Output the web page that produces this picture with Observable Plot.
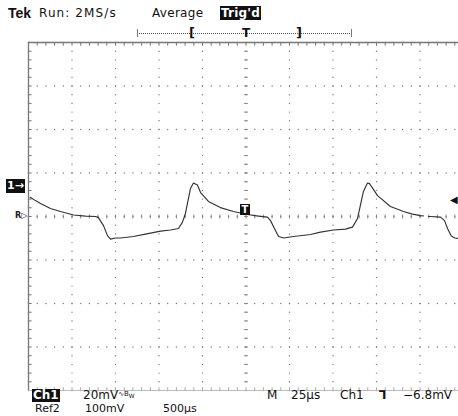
<!DOCTYPE html>
<html><head><meta charset="utf-8">
<script src="https://cdn.jsdelivr.net/npm/d3@7"></script>
<script src="https://cdn.jsdelivr.net/npm/@observablehq/plot@0.6"></script>
<style>
html,body{margin:0;padding:0;background:#fff;overflow:hidden}
#wrap{position:relative;width:458px;height:416px;overflow:hidden;background:#fff;font-family:"DejaVu Sans",sans-serif;color:#111}
#chart{position:absolute;left:0;top:0}
.t{position:absolute;font-size:12px;line-height:14px;white-space:nowrap}
</style></head>
<body><div id="wrap"><div id="chart"></div></div>
<script>
// ---- data (time in µs relative to trigger, Ch1 in mV relative to ground marker) ----
const timeUs = [-124,-121,-118.1,-112.4,-106.6,-99.1,-92.2,-86.5,-84.8,-81.9,-79.6,-77.9,-75,-72.2,-64.7,-57.8,-49.1,-43.4,-38.8,-36.5,-34.8,-31.9,-30.2,-27.9,-26.1,-21.6,-14.7,-7.2,-3.2,0.9,7.2,12.4,14.1,17,18.7,21.6,27.3,37.1,42.8,50.3,57.2,61.2,64.1,67.5,69.8,71,75.6,83,90.5,95.7,100.3,101.9,102.5,104.8,106,111.8,114.1,115.8,118,120,122.1];
const ch1mV  = [-5.2,-6.7,-8,-10.3,-11.7,-13.3,-13.8,-14,-14.5,-18.2,-22.8,-24.4,-23.9,-23.9,-23.2,-22.1,-20.7,-20.2,-19.5,-16.6,-12.6,-1.1,1.4,0.5,-3,-7.1,-9.9,-11.7,-12.4,-13.1,-13.8,-14.3,-15.9,-20.5,-23.2,-23.9,-23.2,-22.3,-21.2,-20.2,-19.8,-18.9,-14.9,-2.5,1.4,1.1,-4.4,-9.4,-11.7,-12.9,-13.6,-13.7,NaN,-14,-14,-14.3,-15.9,-19.5,-23,-23.9,-24.1];
const timeGrid = [-125,-100,-75,-50,-25,0,25,50,75,100,125];      // 25 µs/div
const voltGrid = [-94,-74,-54,-34,-14,6,26,46,66];                 // 20 mV/div
const timeMinorStep = 5, voltMinorStep = 4;                        // 5 minor ticks / div
const centerTime = 0, centerVolt = -14, triggerLevel = -6.8;
const headerLabels = ["Tek","Run: 2MS/s","Average","Trig'd"];
const footerLabels = ["Ch1","20mV","M","25µs","Ch1","−6.8mV","Ref2","100mV","500µs"];

const xMinor = d3.range(timeGrid[0], timeGrid[timeGrid.length-1]+0.01, timeMinorStep);
const yMinor = d3.range(voltGrid[0], voltGrid[voltGrid.length-1]+0.01, voltMinorStep);
const wave = timeUs.map((t,i)=>({t, v: ch1mV[i]}));
const dots = [];
for (const x of timeGrid) for (const y of yMinor) dots.push({x,y});
for (const y of voltGrid) for (const x of xMinor) dots.push({x,y});
const xMin = timeGrid[0], yMin = voltGrid[0], yMax = voltGrid[voltGrid.length-1];

const plot = Plot.plot({
  width: 458, height: 416,
  marginLeft: 28, marginTop: 42, marginBottom: 26, marginRight: 0,
  x: {domain: [timeGrid[0], timeGrid[timeGrid.length-1]], range: [28, 463], axis: null},
  y: {domain: [yMin, yMax], range: [390, 42], axis: null},
  style: {background: "white", overflow: "hidden"},
  marks: [
    Plot.dot(dots, {x: "x", y: "y", r: 0.7, fill: "#777", stroke: null}),
    // center cross ticks
    Plot.link(yMinor, {x1: centerTime - 1.1, x2: centerTime + 1.1, y1: d => d, y2: d => d, stroke: "#888", strokeWidth: 1}),
    Plot.link(xMinor, {x1: d => d, x2: d => d, y1: centerVolt - 0.9, y2: centerVolt + 0.9, stroke: "#888", strokeWidth: 1}),
    // frame ticks
    Plot.link(yMinor, {x1: xMin, x2: xMin + 1.8, y1: d => d, y2: d => d, stroke: "#777"}),
    Plot.link(xMinor, {x1: d => d, x2: d => d, y1: yMax, y2: yMax - 1.5, stroke: "#777"}),
    Plot.link(xMinor, {x1: d => d, x2: d => d, y1: yMin, y2: yMin + 1.5, stroke: "#aaa"}),
    // frame
    Plot.ruleX([xMin], {y1: yMin, y2: yMax, stroke: "#777", strokeWidth: 1.3}),
    Plot.ruleY([yMax], {stroke: "#777", strokeWidth: 1.3}),
    Plot.ruleY([yMin], {stroke: "#bbb", strokeWidth: 1}),
    // waveform
    Plot.line(wave, {x: "t", y: "v", stroke: "#333", strokeWidth: 1.15})
  ]
});
const wrap = document.getElementById("wrap");
document.getElementById("chart").appendChild(plot);
const sx = plot.scale("x"), sy = plot.scale("y");

function label(html, left, top, extra) {
  const d = document.createElement("div");
  d.className = "t";
  d.innerHTML = html;
  d.style.left = left + "px"; d.style.top = top + "px";
  if (extra) Object.assign(d.style, extra);
  wrap.appendChild(d);
  return d;
}
// header
label(headerLabels[0], 8, 5, {fontWeight: "bold", fontSize: "14px", lineHeight: "16px", fontFamily: "'Liberation Sans',sans-serif"});
label(headerLabels[1], 39, 6, {letterSpacing: "1.1px"});
label(headerLabels[2], 152, 6, {letterSpacing: "0.3px"});
label(headerLabels[3], 220, 6, {background: "#111", color: "#fff", fontWeight: "bold", padding: "0 1px", letterSpacing: "0.2px"});
// record window bar
const bar = document.createElement("div");
Object.assign(bar.style, {position: "absolute", left: "137px", top: "33px", width: "215px", height: "0", borderTop: "1px dotted #555"});
wrap.appendChild(bar);
for (const lx of [137, 351]) {
  const e = document.createElement("div");
  Object.assign(e.style, {position: "absolute", left: lx + "px", top: "29px", width: "1px", height: "8px", background: "#777"});
  wrap.appendChild(e);
}
label("[", 189, 26, {fontSize: "13px", fontWeight: "bold"});
label("T", Math.round(sx.apply(centerTime)) - 4, 26, {fontSize: "12px", fontWeight: "bold"});
label("]", 296, 26, {fontSize: "13px", fontWeight: "bold"});
// channel ground marker
label("1→", 6, sy.apply(0) - 7, {background: "#111", color: "#fff", fontWeight: "bold", fontSize: "11px", padding: "0 1px"});
// ref marker
label("R▷", 15, sy.apply(centerVolt) - 7, {fontSize: "8px", color: "#222", fontWeight: "bold"});
// trigger point marker
label("T", sx.apply(centerTime) - 6, sy.apply(triggerLevel) + 4, {background: "#111", color: "#fff", fontSize: "10px", lineHeight: "11px", padding: "0 2px", fontWeight: "bold"});
// trigger level arrow
label("◀", 450, sy.apply(triggerLevel) - 7, {fontSize: "10px"});
// footer
const row1 = {lineHeight: "13px"};
const row2 = {fontSize: "11px", lineHeight: "12px"};
label(footerLabels[0], 32, 389, {...row1, background: "#111", color: "#fff", fontWeight: "bold", padding: "0 1px"});
label(footerLabels[1] + "<span style='font-size:7px;vertical-align:3px;line-height:7px'>∿B<sub style='line-height:0'>W</sub></span>", 83, 389, row1);
label(footerLabels[2], 267, 389, row1);
label(footerLabels[3], 291, 389, row1);
label(footerLabels[4], 340, 389, row1);
label("⅂", 379, 389, {...row1, fontWeight: "bold"});
label(footerLabels[5], 403, 389, row1);
label(footerLabels[6], 35, 403, row2);
label(footerLabels[7], 85, 403, row2);
label(footerLabels[8], 163, 403, row2);
</script></body></html>
